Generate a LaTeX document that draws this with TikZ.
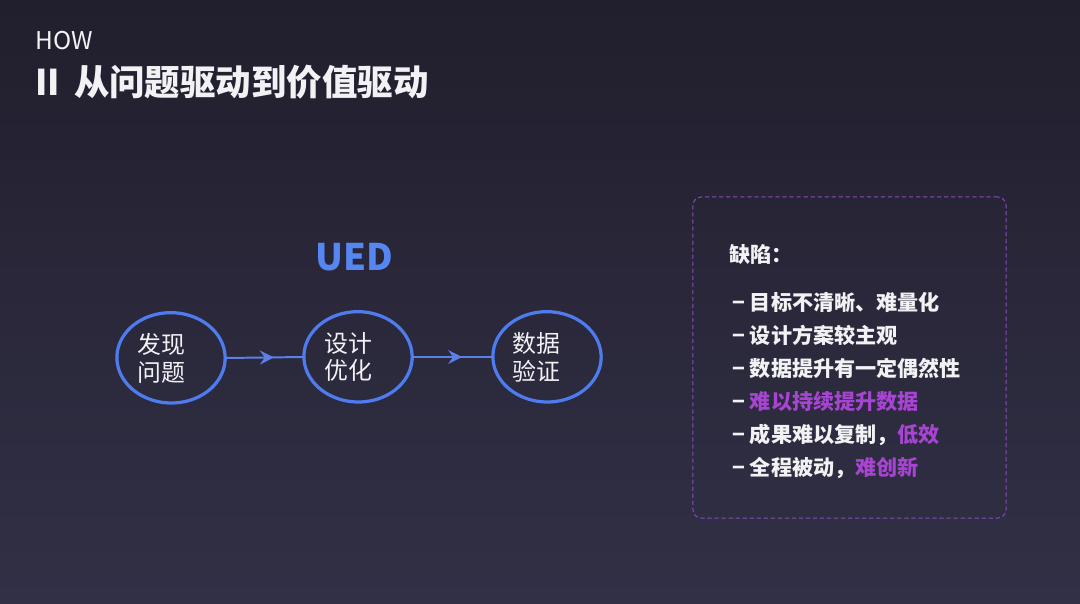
\documentclass[tikz,border=0pt]{standalone}
\usepackage{fontspec}
\setmainfont{Noto Sans}
\newfontfamily\cjk{Noto Sans CJK SC}
\usetikzlibrary{shapes.geometric,arrows.meta,positioning,decorations.markings}
\definecolor{UEBgTop}  {HTML}{211F2D}
\definecolor{UEBgBot}  {HTML}{323046}
\definecolor{UEBlue}   {HTML}{4E7BEE}
\definecolor{UEBlueLt} {HTML}{5B80E8}
\definecolor{UETitle}  {HTML}{5686F2}
\definecolor{UEPurple} {HTML}{A744D2}
\definecolor{UEBorder} {HTML}{8A4ABE}
\definecolor{UEWhite}  {HTML}{F2F2F5}
\tikzset{
  blob/.style={ellipse,minimum width=2.7cm,minimum height=2.25cm,inner sep=0pt},
  eggline/.style={draw=UEBlue,line width=2.3pt},
  blobtxt/.style={font=\cjk\fontsize{17}{19.8}\selectfont,text=UEWhite,align=left,inner sep=0pt},
  flowarr/.style={UEBlueLt,line width=1.4pt,postaction={decorate},
    decoration={markings,mark=at position 0.62 with {\arrow{Stealth[length=10pt,width=10pt,inset=3.5pt]}}}},
  dashbox/.style={draw=UEBorder,dashed,dash pattern=on 3pt off 2pt,line width=0.7pt,rounded corners=6pt,
    minimum width=7.825cm,minimum height=8.025cm,inner sep=0pt},
  itemtxt/.style={font=\cjk\bfseries\fontsize{15}{18}\selectfont,text=UEWhite,anchor=west,inner sep=0pt}
}
\begin{document}
\begin{tikzpicture}[x=0.025cm,y=-0.025cm]
    % background
    \fill[top color=UEBgTop,bottom color=UEBgBot] (0,0) rectangle (1080,604);
    \useasboundingbox (0,0) rectangle (1080,604);
    % heading
    \node[font=\cjk\fontsize{17.4}{20}\selectfont,text=UEWhite,anchor=west,inner sep=0pt]
      (how) at (35,41) {HOW};
    \node[font=\cjk\bfseries\fontsize{25.2}{28}\selectfont,text=UEWhite,anchor=west,inner sep=0pt]
      (title) at (35,82) {II\ \,从问题驱动到价值驱动};
    % UED flow
    \node[font=\cjk\bfseries\fontsize{26}{30}\selectfont,text=UETitle] (ued) at (354,257) {UED};
    \node[blob] (e1) at (171,358) {};
    \node[blob] (e2) at (358,357) {};
    \node[blob] (e3) at (547,357) {};
    \foreach \n in {e1,e2,e3}
      \draw[eggline,shift={(\n)}] plot[domain=0:360,samples=72,smooth cycle]
        ({54*cos(\x)*(1-0.11*cos(\x-140))-4.5},{45*sin(\x)*(1-0.11*cos(\x-140))+3});
    \node[blobtxt] (t1) at (161,358) {发现\\问题};
    \node[blobtxt] (t2) at (348,357) {设计\\优化};
    \node[blobtxt] (t3) at (536,357) {数据\\验证};
    \draw[flowarr] (e1.east) -- (e2.west);
    \draw[flowarr] (e2.east) -- (e3.west);
    % defects box
    \node[dashbox] (defect) at (849.5,357.5) {};
    \node[itemtxt] (head) at (729,254) {缺陷：};
    \foreach \txt [count=\i] in {
        {− 目标不清晰、难量化},
        {− 设计方案较主观},
        {− 数据提升有一定偶然性},
        {− \textcolor{UEPurple}{难以持续提升数据}},
        {− 成果难以复制，\textcolor{UEPurple}{低效}},
        {− 全程被动，\textcolor{UEPurple}{难创新}}}
      \node[itemtxt] (d\i) at (732,302+33.2*\i-33.2) {\txt};
\end{tikzpicture}
\end{document}
